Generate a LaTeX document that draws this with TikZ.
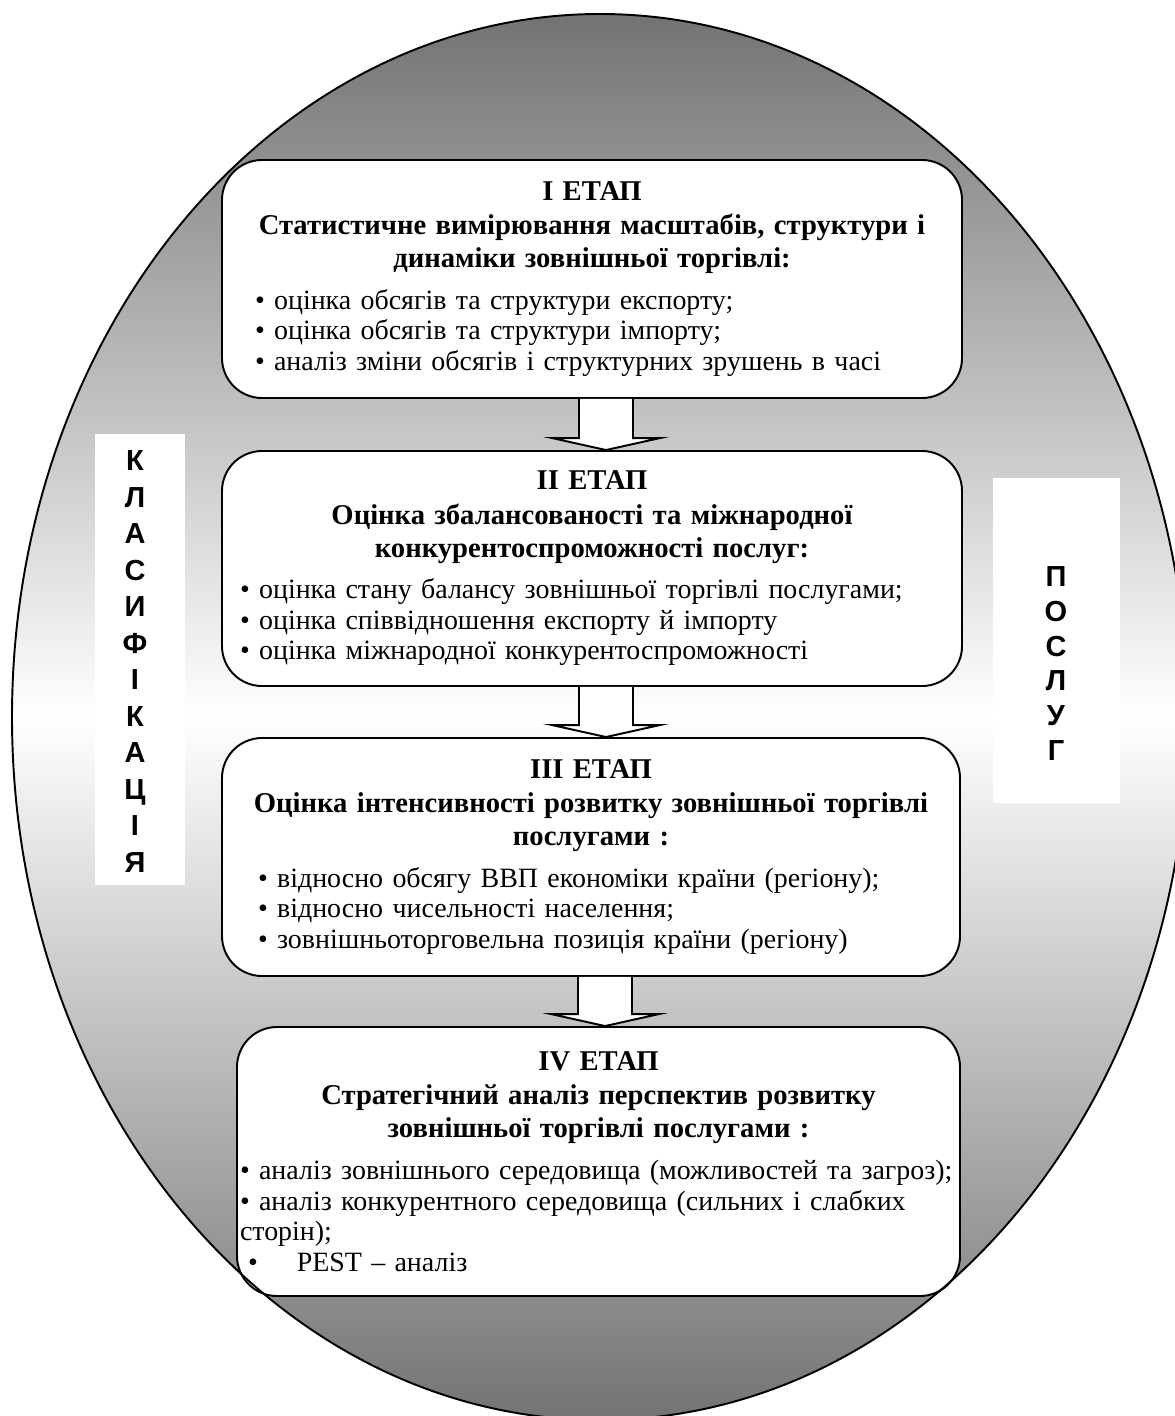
\documentclass[tikz,border=0pt]{standalone}
\usepackage{fontspec}
\setmainfont{Liberation Serif}
\newfontfamily\labelfont{Liberation Sans}
\usetikzlibrary{calc}
\definecolor{ovalgray}{RGB}{115,115,115}

\tikzset{
  stagebox/.style={draw, line width=1.1pt, rounded corners=0.8cm, fill=white,
    align=left, inner ysep=0pt, font=\fontsize{15.9}{17.4}\selectfont},
  blockarrow/.style={draw, line width=1.1pt, fill=white},
  sidelabel/.style={font=\labelfont\bfseries\fontsize{16.5}{20.8}\selectfont,
    align=center, inner sep=0pt}
}
% heading of a stage: title, two bold lines, then space before the list
\newcommand{\stagehead}[3]{{\bfseries\fontsize{16.3}{18.6}\selectfont
  \makebox[\linewidth]{#1}\\[1pt] \makebox[\linewidth]{#2}\\ \makebox[\linewidth]{#3}\par}\vspace{6.4pt}}

\begin{document}
\begin{tikzpicture}
\useasboundingbox (0,0) rectangle (23.5,-28.32);
\clip (0,0) rectangle (23.5,-28.32);

% Background oval
\shade[top color=ovalgray, bottom color=ovalgray, middle color=white]
  (12,-14.34) ellipse (11.76 and 14.06);

% Side labels
\fill[white] (1.9,-8.68) rectangle (3.7,-17.7);
\node[sidelabel] (klas) at (2.7,-13.23) {К\\Л\\А\\С\\И\\Ф\\І\\К\\А\\Ц\\І\\Я};
\fill[white] (19.86,-9.56) rectangle (22.4,-16.06);
\node[sidelabel, font=\labelfont\bfseries\fontsize{16.5}{19.7}\selectfont] (posl) at (21.12,-13.27) {П\\О\\С\\Л\\У\\Г};

% Stage I
\node[stagebox, text width=13.48cm, inner xsep=0.66cm, minimum height=4.76cm] (s1) at (11.84,-5.58) {%
\stagehead{I ЕТАП}{Статистичне вимірювання масштабів, структури і}{динаміки зовнішньої торгівлі:}
• оцінка обсягів та структури експорту;\\
• оцінка обсягів та структури імпорту;\\
• аналіз зміни обсягів і структурних зрушень в часі};

% Stage II
\node[stagebox, text width=14.08cm, inner xsep=0.36cm, minimum height=4.70cm] (s2) at (11.84,-11.37) {%
\stagehead{II ЕТАП}{Оцінка збалансованості та міжнародної}{конкурентоспроможності послуг:}
• оцінка стану балансу зовнішньої торгівлі послугами;\\
• оцінка співвідношення експорту й імпорту\\
• оцінка міжнародної конкурентоспроможності};

% Stage III
\node[stagebox, text width=13.32cm, inner xsep=0.72cm, minimum height=4.76cm] (s3) at (11.82,-17.14) {%
\stagehead{III ЕТАП}{Оцінка інтенсивності розвитку зовнішньої торгівлі}{послугами :}
• відносно обсягу ВВП економіки країни (регіону);\\
• відносно чисельності населення;\\
• зовнішньоторговельна позиція країни (регіону)};

% Stage IV
\node[stagebox, text width=14.34cm, inner xsep=0.06cm, minimum height=5.38cm] (s4) at (11.97,-23.23) {%
\stagehead{IV ЕТАП}{Стратегічний аналіз перспектив розвитку}{зовнішньої торгівлі послугами :}
• аналіз зовнішнього середовища (можливостей та загроз);\\
• аналіз конкурентного середовища (сильних і слабких\\
сторін);\\
\hspace*{0.16cm}•\hspace{0.78cm}PEST – аналіз};

% Block arrows between stages
\foreach \a/\b in {s1/s2, s2/s3, s3/s4}
  \draw[blockarrow] let \p1=($(\a.south)+(0.28,0)$), \p2=(\b.north) in
    (\x1-0.54cm,\y1) -- (\x1-0.54cm,\y2+0.24cm) -- (\x1-1.08cm,\y2+0.24cm) -- (\x1,\y2)
    -- (\x1+1.08cm,\y2+0.24cm) -- (\x1+0.54cm,\y2+0.24cm) -- (\x1+0.54cm,\y1);

% Oval outline on top
\draw[line width=1.1pt] (12,-14.34) ellipse (11.76 and 14.06);
\end{tikzpicture}
\end{document}
